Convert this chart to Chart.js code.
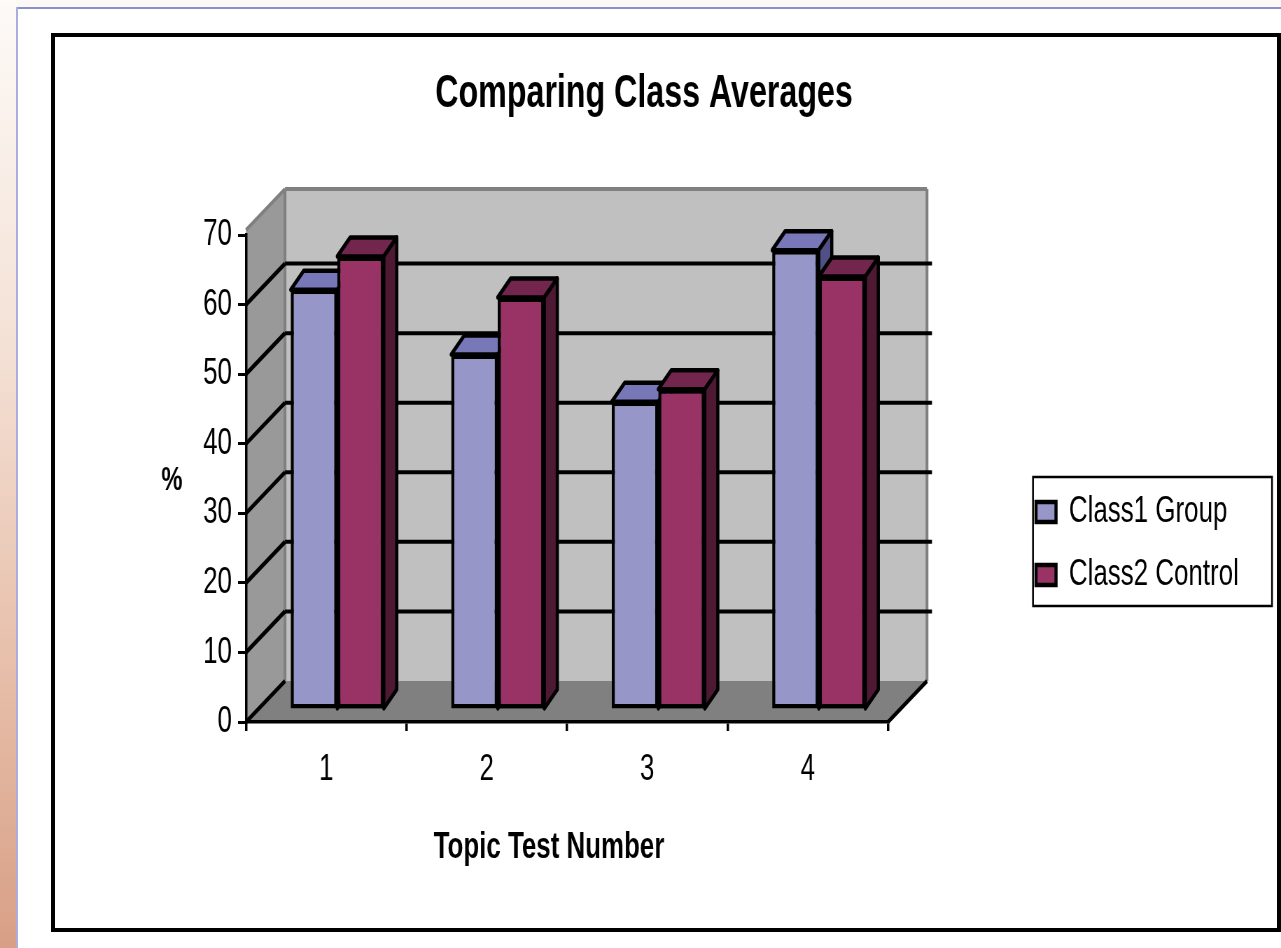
<!DOCTYPE html>
<html>
<head>
<meta charset="utf-8">
<title>Comparing Class Averages</title>
<script src="https://cdn.jsdelivr.net/npm/chart.js@4.4.1/dist/chart.umd.min.js"></script>
<style>
    html, body { margin: 0; padding: 0; width: 1281px; height: 948px; overflow: hidden; background: #fff; }
    .topStrip { position: absolute; left: 0; top: 0; width: 1281px; height: 7px; background: #fbf8f5; }
    .topLine { position: absolute; left: 16px; top: 7px; width: 1265px; height: 2px; background: #8a90cc; }
    .leftStrip { position: absolute; left: 0; top: 0; width: 16px; height: 948px;
        background: linear-gradient(to bottom, #fdfaf7 0%, #f4e2d7 35%, #e7bfaa 70%, #d89f86 100%); }
    .leftLine { position: absolute; left: 16px; top: 7px; width: 2px; height: 941px; background: #a9aedc; }
    .frame { position: absolute; left: 51px; top: 33px; width: 1222px; height: 891px; border: 4px solid #000; }
    /* the reference is squeezed sideways, so the canvas is drawn wide and squeezed back */
    #chart { position: absolute; left: 0; top: 0; transform-origin: 0 0; transform: scaleX(0.7); }
</style>
</head>
<body>
<div class="topStrip"></div>
<div class="leftStrip"></div>
<div class="topLine"></div>
<div class="leftLine"></div>
<div class="frame"></div>
<canvas id="chart" width="1830" height="948"></canvas>
<script>
const S = 0.7;

// Datos
const testNumbers = ['1', '2', '3', '4'];
const class1Group = [60.4, 51.1, 44.3, 66.1];
const class2Control = [65.2, 59.3, 46.1, 62.3];
const yTicks = [0, 10, 20, 30, 40, 50, 60, 70];

const FONT = "'Liberation Sans', Arial, sans-serif";

// profundidad de la caja 3D (paredes) y de las barras
const WALL_DX = 39 / S, WALL_DY = -41;
const BAR_SHIFT_X = 11 / S, BAR_SHIFT_Y = -12;
const BAR_DX = 13 / S, BAR_DY = -19;

const faceColors = [
    { top: '#7878b9', side: '#505087' },
    { top: '#73264d', side: '#4d1933' }
];

function poly(ctx, pts, fill, stroke) {
    ctx.beginPath();
    ctx.moveTo(pts[0][0], pts[0][1]);
    for (let i = 1; i < pts.length; i++) ctx.lineTo(pts[i][0], pts[i][1]);
    ctx.closePath();
    if (fill) { ctx.fillStyle = fill; ctx.fill(); }
    if (stroke) { ctx.strokeStyle = stroke; ctx.stroke(); }
}

function line(ctx, x1, y1, x2, y2) {
    ctx.beginPath();
    ctx.moveTo(x1, y1);
    ctx.lineTo(x2, y2);
    ctx.stroke();
}

const box3d = {
    id: 'box3d',
    afterLayout(chart) {
        // leyenda a la derecha, fuera del área del gráfico
        const lg = chart.legend;
        if (!lg) return;
        const pad = lg.options.labels.padding;
        lg.left = 1036 / S - pad;
        lg.right = 1272 / S;
        lg.top = 430;
        lg.bottom = 657;
        lg.width = lg.right - lg.left;
        lg.height = lg.bottom - lg.top;
    },
    beforeDraw(chart) {
        const { ctx, chartArea: a, scales: { y } } = chart;
        const L = a.left, R = a.right, B = a.bottom;
        const T = y.getPixelForValue(70) - 5;
        ctx.save();
        ctx.lineJoin = 'miter';

        // pared lateral
        poly(ctx, [[L, B], [L, T], [L + WALL_DX, T + WALL_DY], [L + WALL_DX, B + WALL_DY]], '#999999');
        // pared del fondo
        poly(ctx, [[L + WALL_DX, T + WALL_DY], [R + WALL_DX, T + WALL_DY], [R + WALL_DX, B + WALL_DY], [L + WALL_DX, B + WALL_DY]], '#c0c0c0');
        // piso
        poly(ctx, [[L, B], [R, B], [R + WALL_DX, B + WALL_DY], [L + WALL_DX, B + WALL_DY]], '#808080');

        // bordes grises de las paredes
        ctx.strokeStyle = '#808080';
        ctx.lineWidth = 4;
        line(ctx, L, T, L + WALL_DX, T + WALL_DY);
        line(ctx, L + WALL_DX, T + WALL_DY, R + WALL_DX, T + WALL_DY);
        line(ctx, R + WALL_DX, T + WALL_DY, R + WALL_DX, B + WALL_DY);
        line(ctx, L + WALL_DX, T + WALL_DY, L + WALL_DX, B + WALL_DY);

        // líneas de la cuadrícula
        ctx.strokeStyle = '#000';
        yTicks.forEach(v => {
            if (v === 70) return;
            const py = y.getPixelForValue(v);
            ctx.lineWidth = 4.5;
            line(ctx, L, py, L + WALL_DX, py + WALL_DY);
            if (v === 0) return;
            ctx.lineWidth = 4;
            line(ctx, L + WALL_DX, py + WALL_DY, R + WALL_DX + 5 / S, py + WALL_DY);
        });
        ctx.lineWidth = 4.5;
        line(ctx, R, B, R + WALL_DX, B + WALL_DY);
        ctx.restore();
    },
    beforeDatasetsDraw(chart) {
        chart.ctx.save();
        chart.ctx.translate(BAR_SHIFT_X, BAR_SHIFT_Y);
    },
    afterDatasetsDraw(chart) {
        const ctx = chart.ctx;
        const metas = [chart.getDatasetMeta(0), chart.getDatasetMeta(1)];
        ctx.lineWidth = 4.5;
        ctx.lineJoin = 'round';
        testNumbers.forEach((_, i) => {
            metas.forEach((meta, d) => {
                const bar = meta.data[i];
                // el frente de la barra derecha tapa el costado de la izquierda
                if (d > 0) bar.draw(ctx);
                const { x, y, base, width } = bar.getProps(['x', 'y', 'base', 'width'], true);
                const l = x - width / 2, r = x + width / 2;
                poly(ctx, [[l, y], [l + BAR_DX, y + BAR_DY], [r + BAR_DX, y + BAR_DY], [r, y]], faceColors[d].top, '#000');
                poly(ctx, [[r, y], [r + BAR_DX, y + BAR_DY], [r + BAR_DX, base + BAR_DY], [r, base]], faceColors[d].side, '#000');
            });
        });
        ctx.restore();
    },
    afterDraw(chart) {
        const { ctx, chartArea: a } = chart;
        ctx.save();
        ctx.fillStyle = '#000';
        ctx.textAlign = 'center';
        ctx.textBaseline = 'middle';
        ctx.font = `bold 37px ${FONT}`;
        ctx.fillText('Topic Test Number', a.left + 303 / S, 848);
        ctx.font = `bold 34px ${FONT}`;
        ctx.fillText('%', a.left - 74 / S, 481);
        // marco de la leyenda
        ctx.strokeStyle = '#000';
        ctx.lineWidth = 2.5;
        ctx.strokeRect(1033 / S, 477, 239 / S, 129);
        ctx.restore();
    }
};

Chart.defaults.font.family = FONT;
Chart.defaults.color = '#000';

new Chart(document.getElementById('chart'), {
    type: 'bar',
    data: {
        labels: testNumbers,
        datasets: [{
            label: 'Class1 Group',
            data: class1Group,
            backgroundColor: '#9696c8',
            borderColor: '#000',
            borderWidth: 4.5,
            borderSkipped: false,
            clip: false
        }, {
            label: 'Class2 Control',
            data: class2Control,
            backgroundColor: '#993366',
            borderColor: '#000',
            borderWidth: 4.5,
            borderSkipped: false,
            clip: false
        }]
    },
    options: {
        responsive: false,
        animation: false,
        devicePixelRatio: 1,
        events: [],
        categoryPercentage: 0.58,
        barPercentage: 1,
        layout: { padding: { left: 10, right: 0, top: 0, bottom: 0 } },
        plugins: {
            title: {
                display: true,
                text: 'Comparing Class Averages',
                color: '#000',
                font: { size: 46, weight: 'bold' },
                padding: { top: 66.4, bottom: 113.4 }
            },
            legend: {
                position: 'chartArea',
                labels: {
                    color: '#000',
                    font: { size: 37 },
                    boxWidth: 20 / S,
                    boxHeight: 20,
                    padding: 26
                }
            },
            tooltip: { enabled: false }
        },
        scales: {
            x: {
                offset: true,
                grid: { offset: true, drawOnChartArea: false, drawTicks: true, tickLength: 9, color: '#000', lineWidth: 3.5 },
                border: { display: true, color: '#000', width: 3.5 },
                ticks: { font: { size: 37 }, padding: 17, color: '#000' },
                afterFit(scale) { scale.height = 948 - 722; }
            },
            y: {
                min: 0,
                max: 70,
                afterBuildTicks(scale) { scale.ticks = yTicks.map(v => ({ value: v })); },
                grid: { drawOnChartArea: false, drawTicks: true, tickLength: 8 / S, color: '#000', lineWidth: 3 },
                border: { display: true, color: '#000', width: 3.5 },
                ticks: { font: { size: 37 }, padding: 8.6, color: '#000' },
                afterFit(scale) { scale.width = 246 / S - 10; }
            },
            pad: {
                type: 'linear',
                position: 'right',
                display: true,
                grid: { display: false },
                border: { display: false },
                ticks: { display: false },
                afterFit(scale) { scale.width = (1281 - 888) / S; }
            }
        }
    },
    plugins: [box3d]
});
</script>
</body>
</html>
